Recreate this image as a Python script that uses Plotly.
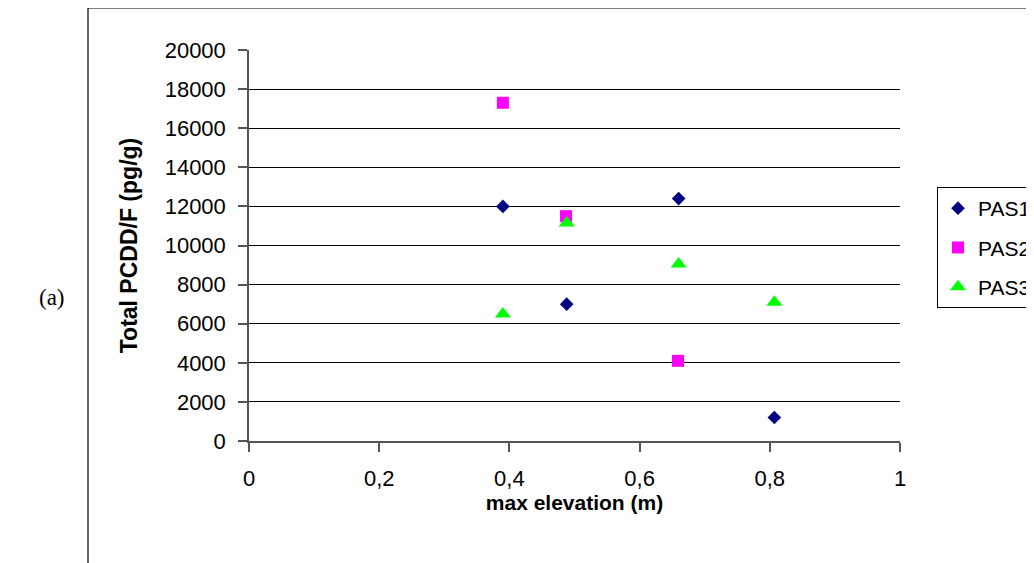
import plotly.graph_objects as go

# Data
series_names = ["PAS1", "PAS2", "PAS3"]
pas1_x = [0.39, 0.488, 0.66, 0.807]
pas1_y = [12000, 7000, 12400, 1200]
pas2_x = [0.39, 0.487, 0.659]
pas2_y = [17300, 11500, 4100]
pas3_x = [0.39, 0.488, 0.66, 0.807]
pas3_y = [6500, 11150, 9050, 7100]

x_tickvals = [0, 0.2, 0.4, 0.6, 0.8, 1.0]
x_ticktext = ["0", "0,2", "0,4", "0,6", "0,8", "1"]
y_tickvals = list(range(0, 20001, 2000))

colors = ["#000080", "#FF00FF", "#00FF00"]
symbols = ["diamond", "square", "triangle-up"]
sizes = [10.5, 12, 14]

fig = go.Figure()
for name, xs, ys, c, s, sz in zip(series_names, [pas1_x, pas2_x, pas3_x],
                                  [pas1_y, pas2_y, pas3_y], colors, symbols, sizes):
    fig.add_trace(go.Scatter(x=xs, y=ys, mode="markers", name=name, legendgroup=name,
                             marker=dict(color=c, symbol=s, size=sz, line=dict(width=0))))

W, H = 1034, 563
OFF = 8  # page body margin offset
L, R, T, B = 249 - OFF, 900 - OFF, 50 - OFF, 441 - OFF
pw, ph = R - L, B - T

def px(xp):
    return (xp - OFF - L) / pw

def py(yp):
    return (B - (yp - OFF)) / ph

font_family = "Liberation Sans, Arial, sans-serif"

fig.update_layout(
    width=W, height=H,
    margin=dict(l=L, r=W - R, t=T, b=H - B, pad=0),
    paper_bgcolor="white", plot_bgcolor="white",
    font=dict(family=font_family, size=21, color="black"),
    showlegend=True,
    legend=dict(xref="container", yref="container",
                x=(937 - OFF) / W, y=1 - (187 - OFF) / H, xanchor="left", yanchor="top",
                bordercolor="black", borderwidth=1, bgcolor="white",
                font=dict(size=21, family=font_family), itemwidth=30,
                tracegroupgap=9),
    xaxis=dict(range=[0, 1], tickvals=x_tickvals, ticktext=x_ticktext,
               showgrid=False, zeroline=False, showline=True,
               linecolor="#555555", linewidth=1.5, ticks="outside", ticklen=9,
               tickcolor="#555555", tickwidth=1.5, ticklabelstandoff=8,
               tickfont=dict(size=22),
               title=dict(text="<b>max elevation (m)</b>", font=dict(size=21), standoff=0)),
    yaxis=dict(range=[0, 20000], tickvals=y_tickvals, tickformat="d",
               showgrid=True, gridcolor="black", gridwidth=1,
               zeroline=False, showline=True, linecolor="#555555", linewidth=1.5,
               ticks="outside", ticklen=9, tickcolor="#555555", tickwidth=1.5,
               ticklabelstandoff=8, tickfont=dict(size=22),
               title=dict(text="<b>Total PCDD/F (pg/g)</b>", font=dict(size=23), standoff=21)),
    shapes=[
        dict(type="rect", xref="paper", yref="paper",
             x0=px(88), x1=px(1100), y0=py(640), y1=py(8),
             line=dict(color="black", width=1.2), fillcolor="rgba(0,0,0,0)", layer="below"),
    ],
    annotations=[
        dict(text="(a)", xref="paper", yref="paper", x=px(52), y=py(297),
             xanchor="center", yanchor="middle", showarrow=False,
             font=dict(family="Liberation Serif, Times New Roman, serif", size=23, color="black")),
    ],
)

fig.write_html("out.html")
